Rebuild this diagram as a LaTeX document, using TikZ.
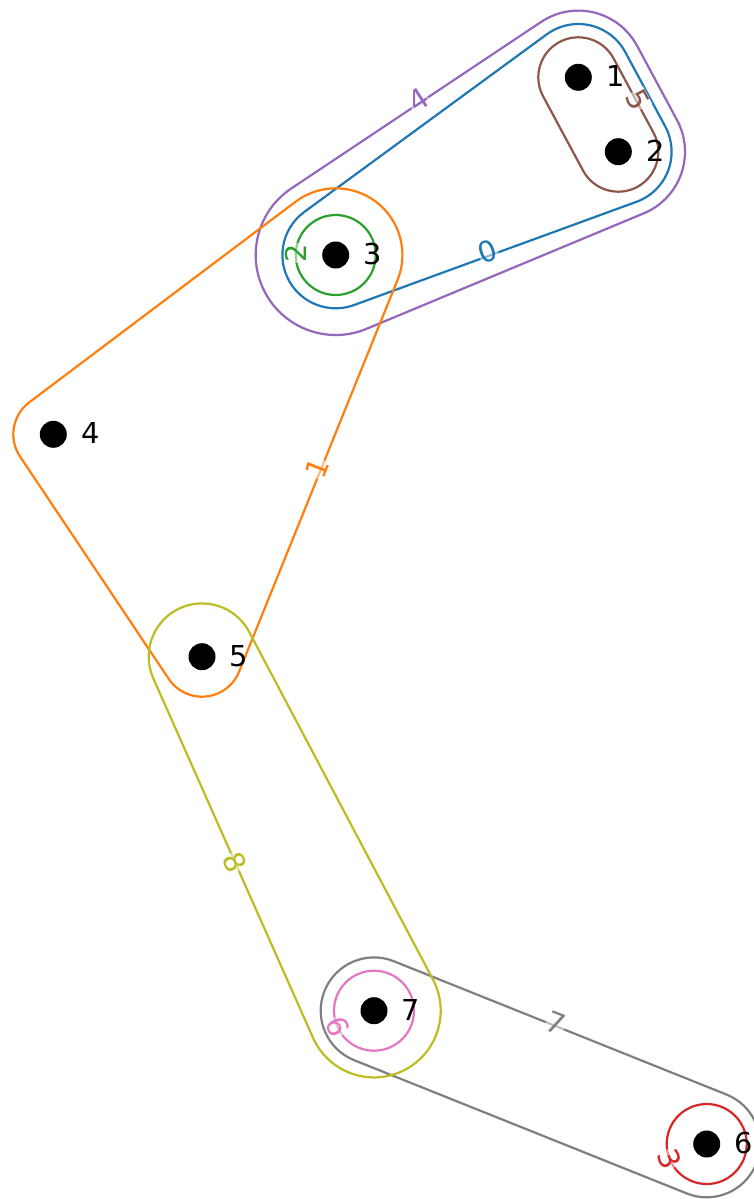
\documentclass[tikz,border=0pt]{standalone}
\usepackage{fontspec}
\setmainfont{DejaVu Sans}
\usetikzlibrary{calc}
\definecolor{c0}{HTML}{1F77B4}
\definecolor{c1}{HTML}{FF7F0E}
\definecolor{c2}{HTML}{2CA02C}
\definecolor{c3}{HTML}{D62728}
\definecolor{c4}{HTML}{9467BD}
\definecolor{c5}{HTML}{8C564B}
\definecolor{c6}{HTML}{E377C2}
\definecolor{c7}{HTML}{7F7F7F}
\definecolor{c8}{HTML}{BCBD22}
% outer tangent normal angle (right side going from circle 1 to circle 2)
\newcommand\hulltan[7]{\pgfmathsetmacro#1{atan2((#6)-(#3),(#5)-(#2))-acos(((#4)-(#7))/veclen((#5)-(#2),(#6)-(#3)))}}
\newcommand\hullcorner[4]{($(#1)+(#2:#4)$) arc[start angle=#2, delta angle={mod(#3-(#2)+720,360)}, radius=#4]}
\def\Xa{578.3}\def\Ya{-77.3}
\def\Xb{618.3}\def\Yb{-151.7}
\def\Xc{335.7}\def\Yc{-255}
\def\Xd{53.3}\def\Yd{-434.3}
\def\Xe{202}\def\Ye{-656.7}
\def\Xf{706.7}\def\Yf{-1144}
\def\Xg{374}\def\Yg{-1010.7}
\begin{document}
\begin{tikzpicture}[x=1pt,y=1pt,
  hull/.style={line width=2.2pt},
  dot/.style={circle,fill=black,inner sep=0pt,minimum size=27pt},
  nlab/.style={anchor=base,font=\fontsize{28.8}{30}\selectfont,inner sep=0pt},
  elab/.style={font=\fontsize{28.8}{30}\selectfont,fill=white,fill opacity=0.5,text opacity=1,inner sep=0.5pt}]
\useasboundingbox (0,0) rectangle (754,-1199);
\coordinate (p1) at (\Xa,\Ya);
\coordinate (p2) at (\Xb,\Yb);
\coordinate (p3) at (\Xc,\Yc);
\coordinate (p4) at (\Xd,\Yd);
\coordinate (p5) at (\Xe,\Ye);
\coordinate (p6) at (\Xf,\Yf);
\coordinate (p7) at (\Xg,\Yg);
% edge 0 (blue): 1,2,3
\hulltan\angA{\Xa}{\Ya}{53.3}{\Xc}{\Yc}{53.3}
\hulltan\angB{\Xc}{\Yc}{53.3}{\Xb}{\Yb}{53.3}
\hulltan\angC{\Xb}{\Yb}{53.3}{\Xa}{\Ya}{53.3}
\draw[hull,c0] \hullcorner{p1}{\angC}{\angA}{53.3} -- \hullcorner{p3}{\angA}{\angB}{53.3} -- \hullcorner{p2}{\angB}{\angC}{53.3} -- cycle;
% edge 4 (purple): 1,2,3
\hulltan\angA{\Xa}{\Ya}{66.7}{\Xc}{\Yc}{80}
\hulltan\angB{\Xc}{\Yc}{80}{\Xb}{\Yb}{66.7}
\hulltan\angC{\Xb}{\Yb}{66.7}{\Xa}{\Ya}{66.7}
\draw[hull,c4] \hullcorner{p1}{\angC}{\angA}{66.7} -- \hullcorner{p3}{\angA}{\angB}{80} -- \hullcorner{p2}{\angB}{\angC}{66.7} -- cycle;
% edge 1 (orange): 3,4,5
\hulltan\angA{\Xc}{\Yc}{66.7}{\Xd}{\Yd}{40}
\hulltan\angB{\Xd}{\Yd}{40}{\Xe}{\Ye}{40}
\hulltan\angC{\Xe}{\Ye}{40}{\Xc}{\Yc}{66.7}
\draw[hull,c1] \hullcorner{p3}{\angC}{\angA}{66.7} -- \hullcorner{p4}{\angA}{\angB}{40} -- \hullcorner{p5}{\angB}{\angC}{40} -- cycle;
% edge 5 (brown): 1,2
\hulltan\angA{\Xa}{\Ya}{40}{\Xb}{\Yb}{40}
\hulltan\angB{\Xb}{\Yb}{40}{\Xa}{\Ya}{40}
\draw[hull,c5] \hullcorner{p1}{\angB}{\angA}{40} -- \hullcorner{p2}{\angA}{\angB}{40} -- cycle;
% edge 7 (gray): 6,7
\hulltan\angA{\Xg}{\Yg}{53.3}{\Xf}{\Yf}{53.3}
\hulltan\angB{\Xf}{\Yf}{53.3}{\Xg}{\Yg}{53.3}
\draw[hull,c7] \hullcorner{p7}{\angB}{\angA}{53.3} -- \hullcorner{p6}{\angA}{\angB}{53.3} -- cycle;
% edge 8 (olive): 5,7
\hulltan\angA{\Xe}{\Ye}{53.3}{\Xg}{\Yg}{66.7}
\hulltan\angB{\Xg}{\Yg}{66.7}{\Xe}{\Ye}{53.3}
\draw[hull,c8] \hullcorner{p5}{\angB}{\angA}{53.3} -- \hullcorner{p7}{\angA}{\angB}{66.7} -- cycle;
% single-node edges
\draw[hull,c2] (p3) circle[radius=40];
\draw[hull,c3] (p6) circle[radius=40];
\draw[hull,c6] (p7) circle[radius=40];
% edge labels
\node[elab,text=c0,rotate=20]  (e0) at (488,-252) {0};
\node[elab,text=c1,rotate=68]  (e1) at (317,-468) {1};
\node[elab,text=c2,rotate=90]  (e2) at (295.7,-253) {2};
\node[elab,text=c3,rotate=-68] (e3) at (669.6,-1159) {3};
\node[elab,text=c4,rotate=33]  (e4) at (418,-100) {4};
\node[elab,text=c5,rotate=-62] (e5) at (638,-100) {5};
\node[elab,text=c6,rotate=-66] (e6) at (337.5,-1027) {6};
\node[elab,text=c7,rotate=-21] (e7) at (556,-1023) {7};
\node[elab,text=c8,rotate=-65] (e8) at (235,-862) {8};
% nodes
\foreach \i in {1,...,7} {\node[dot] (n\i) at (p\i) {};}
\node[nlab] (l1) at ($(p1)+(37,-9.5)$) {1};
\node[nlab] (l2) at ($(p2)+(37,-9.5)$) {2};
\node[nlab] (l3) at ($(p3)+(37,-9.5)$) {3};
\node[nlab] (l4) at ($(p4)+(37,-9.5)$) {4};
\node[nlab] (l5) at ($(p5)+(37,-9.5)$) {5};
\node[nlab] (l6) at ($(p6)+(37,-9.5)$) {6};
\node[nlab] (l7) at ($(p7)+(37,-9.5)$) {7};
\end{tikzpicture}
\end{document}
